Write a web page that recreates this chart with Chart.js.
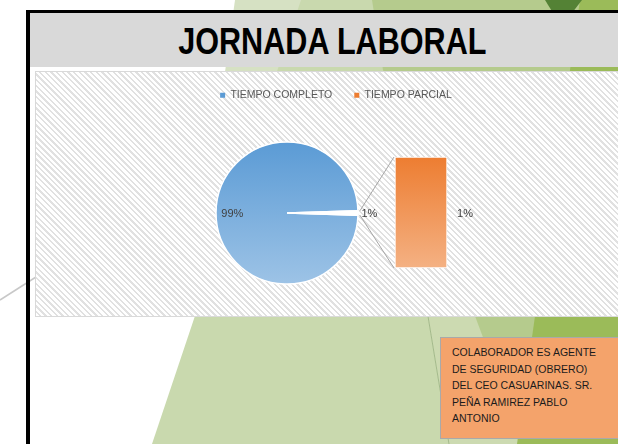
<!DOCTYPE html>
<html>
<head>
<meta charset="utf-8">
<script src="https://cdn.jsdelivr.net/npm/chart.js@4.4.1/dist/chart.umd.min.js"></script>
<style>
html,body{margin:0;padding:0;width:618px;height:444px;overflow:hidden;background:#fff;}
#bg{position:absolute;left:0;top:0;}
#frameL{position:absolute;left:26px;top:10px;width:4px;height:440px;background:#000;}
#frameT{position:absolute;left:26px;top:10px;width:600px;height:3px;background:#000;}
#band{position:absolute;left:30px;top:13px;width:600px;height:54px;background:#d9d9d9;}
#title{position:absolute;left:0;width:664px;top:24px;height:36px;line-height:36px;text-align:center;
  font-family:"Liberation Sans",Arial,sans-serif;font-weight:bold;font-size:36px;color:#000;white-space:nowrap;}
#title span{display:inline-block;transform:scaleX(0.85);}
#chartWrap{position:absolute;left:36px;top:72px;width:600px;height:244px;
  background:repeating-linear-gradient(45deg,#ffffff 0px,#ffffff 2.3px,#e1e1e1 2.3px,#e1e1e1 4px);
  outline:1px solid #d9d9d9;}
.cbox{position:absolute;left:0;top:0;width:600px;height:244px;}
#note{position:absolute;left:440px;top:337px;width:190px;height:102px;background:#f4a36b;
  border:1px solid #a9a9a9;box-sizing:border-box;padding:6px 0 0 11px;
  font-family:"Liberation Sans",Arial,sans-serif;font-size:10.5px;line-height:16.5px;color:#1b1b1b;white-space:nowrap;}
</style>
</head>
<body>
<svg id="bg" width="618" height="444">
  <polygon points="235,0 620,0 620,72 225,72" fill="#d6e1c3"/>
  <polygon points="301,0 376,0 449,444 152,444" fill="#c9d9ae"/>
  <polygon points="376,0 620,0 620,444 449,444" fill="#ccdab1"/>
  <line x1="376" y1="0" x2="449" y2="444" stroke="#a3b98a" stroke-width="1"/>
  <polygon points="372,0 620,0 620,444 523,444 475,316 383,70" fill="#b5cb8d"/>
  <polygon points="580,0 620,0 620,444 517,444 535,316 570,70" fill="#9bbb59"/>
  <polygon points="545,0 582,0 572,13 553,13" fill="#548235"/>
  <line x1="0" y1="300" x2="36" y2="277" stroke="#c8c8c8" stroke-width="1.5"/>
</svg>
<div id="frameL"></div>
<div id="frameT"></div>
<div id="band"></div>
<div id="title"><span>JORNADA LABORAL</span></div>
<div id="chartWrap">
  <div class="cbox"><canvas id="pie"></canvas></div>
  <div class="cbox"><canvas id="bar"></canvas></div>
</div>
<div id="note">COLABORADOR ES AGENTE<br>DE SEGURIDAD (OBRERO)<br>DEL CEO CASUARINAS. SR.<br>PEÑA RAMIREZ PABLO<br>ANTONIO</div>

<script>
// ---- data ----
const categories = ['TIEMPO COMPLETO', 'TIEMPO PARCIAL'];
const seriesValues = [99, 1];
// ---- style ----
const FONT = "'Liberation Sans', Arial, sans-serif";
const BLUE_TOP = '#5b9bd5', BLUE_BOT = '#9dc3e6';
const ORANGE_TOP = '#ed7d31', ORANGE_BOT = '#f4b183';
const PIE_R = 71;
const total = seriesValues.reduce((a, b) => a + b, 0);
const pct = v => Math.round(v / total * 100) + '%';

const pieLabels = {
  id: 'pieLabels',
  afterDatasetsDraw(chart) {
    const ctx = chart.ctx;
    const arcs = chart.getDatasetMeta(0).data;
    ctx.save();
    ctx.font = '11px ' + FONT;
    ctx.fillStyle = '#404040';
    ctx.textAlign = 'center';
    ctx.textBaseline = 'middle';
    arcs.forEach((arc, i) => {
      const mid = (arc.startAngle + arc.endAngle) / 2;
      const d = arc.outerRadius * (i === 0 ? 0.77 : 1.16);
      ctx.fillText(pct(seriesValues[i]), arc.x + Math.cos(mid) * d, arc.y + Math.sin(mid) * d + 1);
    });
    ctx.restore();
  }
};

const pieChart = new Chart(document.getElementById('pie'), {
  type: 'pie',
  data: {
    labels: categories,
    datasets: [{
      data: seriesValues,
      radius: PIE_R,
      borderColor: '#ffffff',
      borderWidth: 1.5,
      backgroundColor: (c) => {
        if (c.dataIndex === 1) return '#ffffff';
        const a = c.chart.chartArea;
        if (!a) return BLUE_TOP;
        const cy = (a.top + a.bottom) / 2;
        const g = c.chart.ctx.createLinearGradient(0, cy - PIE_R, 0, cy + PIE_R);
        g.addColorStop(0, BLUE_TOP);
        g.addColorStop(1, BLUE_BOT);
        return g;
      }
    }]
  },
  options: {
    responsive: true,
    maintainAspectRatio: false,
    animation: false,
    rotation: 90 + 180 * seriesValues[1] / total,
    layout: { padding: { left: 0, right: 98, top: 38, bottom: 0 } },
    plugins: { legend: { display: false }, tooltip: { enabled: false } }
  },
  plugins: [pieLabels]
});

const connectors = {
  id: 'connectors',
  afterDatasetsDraw(chart) {
    const ctx = chart.ctx;
    const bar = chart.getDatasetMeta(0).data[1];
    const arc = pieChart.getDatasetMeta(0).data[1];
    if (!bar || !arc) return;
    const R = arc.outerRadius;
    const p1 = { x: arc.x + Math.cos(arc.startAngle) * R, y: arc.y + Math.sin(arc.startAngle) * R };
    const p2 = { x: arc.x + Math.cos(arc.endAngle) * R, y: arc.y + Math.sin(arc.endAngle) * R };
    const left = bar.x - bar.width / 2;
    ctx.save();
    ctx.strokeStyle = '#a6a6a6';
    ctx.lineWidth = 1;
    ctx.beginPath();
    ctx.moveTo(p1.x + 2, p1.y); ctx.lineTo(left - 1, bar.y);
    ctx.moveTo(p2.x + 2, p2.y); ctx.lineTo(left - 1, bar.base);
    ctx.stroke();
    ctx.font = '11px ' + FONT;
    ctx.fillStyle = '#404040';
    ctx.textAlign = 'center';
    ctx.textBaseline = 'middle';
    ctx.fillText(pct(seriesValues[1]), bar.x + bar.width / 2 + 18, (bar.y + bar.base) / 2 + 1);
    ctx.restore();
  }
};

const legendColors = [BLUE_TOP, ORANGE_TOP];

new Chart(document.getElementById('bar'), {
  type: 'bar',
  data: {
    labels: categories,
    datasets: [{
      data: categories.map((c, i) => (i === 1 ? seriesValues[1] : null)),
      barThickness: 52,
      borderColor: '#ffffff',
      borderWidth: 1,
      borderSkipped: false,
      backgroundColor: (c) => {
        const a = c.chart.chartArea;
        if (!a) return ORANGE_TOP;
        const g = c.chart.ctx.createLinearGradient(0, a.top, 0, a.bottom);
        g.addColorStop(0, ORANGE_TOP);
        g.addColorStop(1, ORANGE_BOT);
        return g;
      }
    }]
  },
  options: {
    responsive: true,
    maintainAspectRatio: false,
    animation: false,
    layout: { padding: { left: 130, right: 130, top: -4, bottom: 48 } },
    scales: {
      x: { display: false },
      y: { display: false, min: 0, max: seriesValues[1] }
    },
    plugins: {
      tooltip: { enabled: false },
      legend: {
        display: true,
        position: 'top',
        weight: 3000,
        onClick: null,
        labels: {
          boxWidth: 5,
          boxHeight: 5,
          padding: 22,
          color: '#595959',
          font: { family: FONT, size: 10.5 },
          generateLabels: () => categories.map((c, i) => ({
            text: c, fillStyle: legendColors[i], strokeStyle: legendColors[i],
            lineWidth: 0, hidden: false, index: i, datasetIndex: 0, fontColor: '#595959'
          }))
        }
      },
      title: {
        display: true,
        text: '',
        weight: 1000,
        font: { size: 1, lineHeight: 1 },
        padding: { top: 0, bottom: 45.5 }
      }
    }
  },
  plugins: [connectors]
});
</script>
</body>
</html>
